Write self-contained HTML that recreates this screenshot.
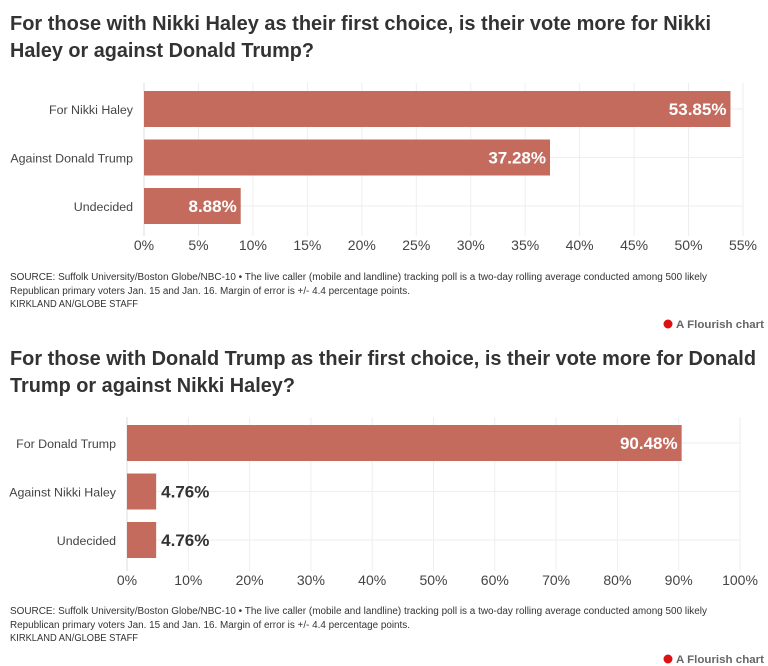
<!DOCTYPE html>
<html><head><meta charset="utf-8"><style>
body{margin:0;background:#fff;width:768px;height:666px;overflow:hidden}
svg{display:block;font-family:"Liberation Sans Narrow","Liberation Sans",sans-serif}
</style></head><body>
<svg id="s" width="768" height="666">
<g font-weight="bold" font-size="20" fill="#333">
<text x="10" y="30" textLength="701" lengthAdjust="spacingAndGlyphs">For those with Nikki Haley as their first choice, is their vote more for Nikki</text>
<text x="10" y="57" textLength="304" lengthAdjust="spacingAndGlyphs">Haley or against Donald Trump?</text>
</g>
<g font-size="10" fill="#333">
<text x="10" y="280" textLength="697" lengthAdjust="spacingAndGlyphs">SOURCE: Suffolk University/Boston Globe/NBC-10 • The live caller (mobile and landline) tracking poll is a two-day rolling average conducted among 500 likely</text>
<text x="10" y="294" textLength="400" lengthAdjust="spacingAndGlyphs">Republican primary voters Jan. 15 and Jan. 16. Margin of error is +/- 4.4 percentage points.</text>
<text x="10" y="307" textLength="128" lengthAdjust="spacingAndGlyphs">KIRKLAND AN/GLOBE STAFF</text>
</g>
<g><circle cx="668" cy="324" r="4.5" fill="#d11"/><text x="676" y="328" font-size="11" font-weight="bold" fill="#666" textLength="88" lengthAdjust="spacingAndGlyphs">A Flourish chart</text></g>
<g font-weight="bold" font-size="20" fill="#333">
<text x="10" y="365" textLength="746" lengthAdjust="spacingAndGlyphs">For those with Donald Trump as their first choice, is their vote more for Donald</text>
<text x="10" y="392" textLength="285" lengthAdjust="spacingAndGlyphs">Trump or against Nikki Haley?</text>
</g>
<g font-size="10" fill="#333">
<text x="10" y="614" textLength="697" lengthAdjust="spacingAndGlyphs">SOURCE: Suffolk University/Boston Globe/NBC-10 • The live caller (mobile and landline) tracking poll is a two-day rolling average conducted among 500 likely</text>
<text x="10" y="628" textLength="400" lengthAdjust="spacingAndGlyphs">Republican primary voters Jan. 15 and Jan. 16. Margin of error is +/- 4.4 percentage points.</text>
<text x="10" y="641" textLength="128" lengthAdjust="spacingAndGlyphs">KIRKLAND AN/GLOBE STAFF</text>
</g>
<g><circle cx="668" cy="659" r="4.5" fill="#d11"/><text x="676" y="663" font-size="11" font-weight="bold" fill="#666" textLength="88" lengthAdjust="spacingAndGlyphs">A Flourish chart</text></g>
</svg>
<script>
const cats1=["For Nikki Haley","Against Donald Trump","Undecided"];
const vals1=[53.85,37.28,8.88];
const ticks1=[0,5,10,15,20,25,30,35,40,45,50,55];
const cats2=["For Donald Trump","Against Nikki Haley","Undecided"];
const vals2=[90.48,4.76,4.76];
const ticks2=[0,10,20,30,40,50,60,70,80,90,100];
const NS="http://www.w3.org/2000/svg";
const svg=document.getElementById('s');
function mk(t,a,p){const e=document.createElementNS(NS,t);for(const k in a)e.setAttribute(k,a[k]);(p||svg).appendChild(e);return e;}
function chart(id,cats,vals,ticks,x0,x1,max,yTop,step,bh,tickY){
  const g=mk('g',{});
  
  
  const xs=v=>x0+(x1-x0)*v/max;
  ticks.forEach(t=>{
    const l=mk('line',{x1:xs(t),x2:xs(t),y1:yTop-8,y2:tickY-14,stroke:t==0?'#ddd':'#eee'},g);
    
    
    const tx=mk('text',{x:xs(t),y:tickY,'font-size':14,fill:'#444','text-anchor':'middle'},g);
    tx.textContent=t+'%';
    
    
  });
  cats.forEach((c,i)=>{
    const y=yTop+i*step;
    mk('line',{x1:x0,x2:x1,y1:y+bh/2,y2:y+bh/2,stroke:'#eee'},g);
    const lb=mk('text',{x:x0-11,y:y+bh/2+5,'font-size':12.4,fill:'#444','text-anchor':'end'},g);
    lb.textContent=c;
    
    
    const w=xs(vals[i])-x0;
    const r=mk('rect',{x:x0,y:y,width:w,height:bh,fill:'#c46b5d'},g);
    
    
    const inside=w>60;
    const v=mk('text',{x:inside?xs(vals[i])-4:xs(vals[i])+5,y:y+bh/2+6,'font-size':17,'font-weight':'bold',fill:inside?'#fff':'#333','text-anchor':inside?'end':'start'},g);
    v.textContent=vals[i].toFixed(2)+'%';
    
    
  });
}
chart('chart-1',cats1,vals1,ticks1,144,743,55,91,48.5,36,250);
chart('chart-2',cats2,vals2,ticks2,127,740,100,425,48.5,36,585);
</script>
</body></html>
